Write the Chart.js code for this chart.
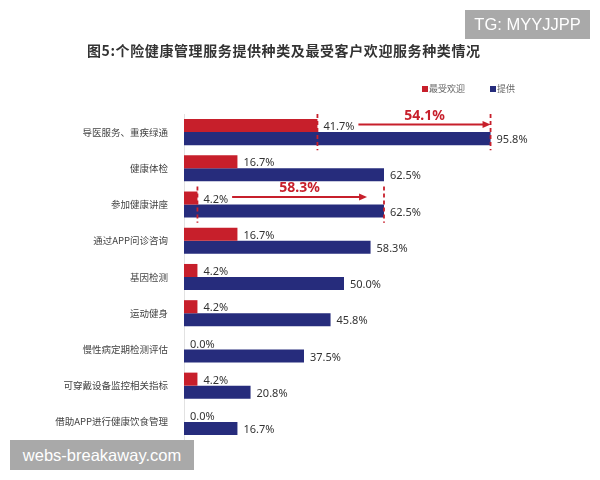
<!DOCTYPE html>
<html>
<head>
<meta charset="utf-8">
<title>个险健康管理服务</title>
<script src="https://cdn.jsdelivr.net/npm/chart.js@4.4.0/dist/chart.umd.min.js"></script>
<style>
  html, body { margin: 0; padding: 0; background: #fff; }
  #wrap { position: relative; width: 600px; height: 480px; overflow: hidden; }
  #wrap canvas { position: absolute; left: 0; top: 0; }
  #title {
    position: absolute; left: 87px; top: 40px; white-space: nowrap;
    font: bold 14px "Noto Sans CJK SC", sans-serif; color: #333; letter-spacing: 0.6px;
  }
  #legend { position: absolute; top: 82px; left: 0; width: 600px; height: 14px; }
  .lg-item {
    position: absolute; top: 0; white-space: nowrap;
    font: 9px "Noto Sans CJK SC", sans-serif; color: #666; line-height: 14px;
  }
  .lg-item i { display: inline-block; width: 6px; height: 6px; margin-right: 1px; vertical-align: 0px; }
  .mark {
    position: absolute; background: #a9a9a9; color: #fff;
    font-family: "Liberation Sans", Arial, sans-serif; text-align: center;
  }
  #tg { left: 465px; top: 10px; width: 125px; height: 29px; line-height: 29px; font-size: 16.5px; }
  #site { left: 10px; top: 440px; width: 184px; height: 30px; line-height: 30px; font-size: 16.5px; }
</style>
</head>
<body>
<div id="wrap">
  <canvas id="healthChart" width="600" height="480"></canvas>
  <div id="title">图5:个险健康管理服务提供种类及最受客户欢迎服务种类情况</div>
  <div id="legend"></div>
  <div class="mark" id="tg">TG: MYYJJPP</div>
  <div class="mark" id="site">webs-breakaway.com</div>
</div>
<script>
// categories, top to bottom
const categories = [
  '导医服务、重疾绿通',
  '健康体检',
  '参加健康讲座',
  '通过APP问诊咨询',
  '基因检测',
  '运动健身',
  '慢性病定期检测评估',
  '可穿戴设备监控相关指标',
  '借助APP进行健康饮食管理'
];
const seriesNames = ['最受欢迎', '提供'];
const popularValues = [41.7, 16.7, 4.2, 16.7, 4.2, 4.2, 0.0, 4.2, 0.0];
const offeredValues = [95.8, 62.5, 62.5, 58.3, 50.0, 45.8, 37.5, 20.8, 16.7];

// gap arrows: between the two values of a category
const gapCategories = ['导医服务、重疾绿通', '参加健康讲座'];
const gapTexts = ['54.1%', '58.3%'];
const gapArrowEnds = [95.8, 57.2];

const RED = '#c71f2b';
const BLUE = '#262c7c';
const legendLeft = [422, 490];

// legend as html
const legendBox = document.getElementById('legend');
seriesNames.forEach((name, i) => {
    const item = document.createElement('span');
    item.className = 'lg-item';
    item.style.left = legendLeft[i] + 'px';
    item.innerHTML = '<i style="background:' + (i === 0 ? RED : BLUE) + '"></i>' + name;
    legendBox.appendChild(item);
});

// value labels at the end of each bar
const valueLabels = {
    id: 'valueLabels',
    afterDatasetsDraw(chart) {
        const ctx = chart.ctx;
        ctx.save();
        ctx.font = '11px "Noto Sans", sans-serif';
        ctx.fillStyle = '#333';
        ctx.textBaseline = 'middle';
        chart.data.datasets.forEach((ds, di) => {
            chart.getDatasetMeta(di).data.forEach((bar, i) => {
                ctx.fillText(ds.data[i].toFixed(1) + '%', bar.x + 6, bar.y + 1.5);
            });
        });
        ctx.restore();
    }
};

// dashed markers + arrow + difference text
const gapArrows = {
    id: 'gapArrows',
    afterDatasetsDraw(chart) {
        const ctx = chart.ctx;
        const xs = chart.scales.x, ys = chart.scales.y;
        const band = ys.getPixelForValue(1) - ys.getPixelForValue(0);
        gapCategories.forEach((cat, n) => {
            const idx = categories.indexOf(cat);
            const cy = ys.getPixelForValue(idx);
            const redBar = chart.getDatasetMeta(0).data[idx];
            ctx.save();
            ctx.strokeStyle = RED;
            ctx.lineWidth = 1.8;
            ctx.setLineDash([4, 3]);
            [popularValues[idx], offeredValues[idx]].forEach(v => {
                const px = xs.getPixelForValue(v);
                ctx.beginPath();
                ctx.moveTo(px, cy - band / 2);
                ctx.lineTo(px, cy + band / 2);
                ctx.stroke();
            });
            ctx.setLineDash([]);

            ctx.font = '11px "Noto Sans", sans-serif';
            const lbl = popularValues[idx].toFixed(1) + '%';
            const x0 = redBar.x + 6 + ctx.measureText(lbl).width + 4;
            const x1 = xs.getPixelForValue(gapArrowEnds[n]);
            const ay = redBar.y - 1;
            ctx.lineWidth = 2;
            ctx.beginPath();
            ctx.moveTo(x0, ay);
            ctx.lineTo(x1 - 6, ay);
            ctx.stroke();
            ctx.fillStyle = RED;
            ctx.beginPath();
            ctx.moveTo(x1, ay);
            ctx.lineTo(x1 - 8, ay - 3.5);
            ctx.lineTo(x1 - 8, ay + 3.5);
            ctx.closePath();
            ctx.fill();

            ctx.font = 'bold 14px "Noto Sans", sans-serif';
            ctx.textAlign = 'center';
            ctx.textBaseline = 'middle';
            ctx.fillText(gapTexts[n], (x0 + x1) / 2, ay - 9);
            ctx.restore();
        });
    }
};

new Chart(document.getElementById('healthChart'), {
    type: 'bar',
    data: {
        labels: categories,
        datasets: [
            { label: seriesNames[0], data: popularValues, backgroundColor: RED },
            { label: seriesNames[1], data: offeredValues, backgroundColor: BLUE }
        ]
    },
    options: {
        indexAxis: 'y',
        responsive: false,
        animation: false,
        layout: { padding: { top: 114, bottom: 40, left: 0, right: 96 } },
        datasets: { bar: { categoryPercentage: 0.72, barPercentage: 1.0 } },
        scales: {
            x: { display: false, min: 0, max: 100 },
            y: {
                grid: { display: false },
                border: { display: true, color: '#e2e2e2', width: 1 },
                ticks: {
                    padding: 8,
                    color: '#444',
                    font: { family: '"Noto Sans CJK SC", sans-serif', size: 9.5 }
                },
                afterFit(scale) { scale.width = 184; }
            }
        },
        plugins: {
            legend: { display: false },
            title: { display: false },
            tooltip: { enabled: false }
        }
    },
    plugins: [valueLabels, gapArrows]
});
</script>
</body>
</html>
